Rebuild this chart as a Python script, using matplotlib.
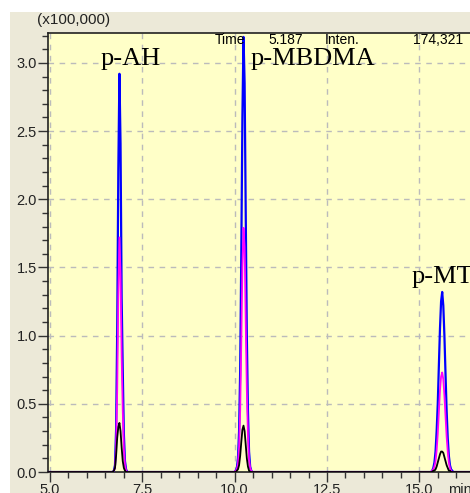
import numpy as np
import matplotlib
matplotlib.use("Agg")
from matplotlib import pyplot as plt
from matplotlib.ticker import MultipleLocator, FormatStrFormatter
from matplotlib.patches import Rectangle

t_ah = [6.70, 6.73, 6.76, 6.79, 6.82, 6.85, 6.88, 6.91, 6.94, 6.97, 7.00, 7.03, 7.06, 7.09, 7.12]
blue_ah = [0, 0.01, 0.05, 0.31, 1.04, 2.21, 2.92, 2.41, 1.28, 0.75, 0.28, 0.08, 0.02, 0, 0]
pink_ah = [0, 0.01, 0.03, 0.18, 0.60, 1.30, 1.72, 1.45, 0.85, 0.45, 0.17, 0.05, 0.01, 0, 0]
black_ah = [0, 0.01, 0.03, 0.12, 0.25, 0.33, 0.36, 0.30, 0.18, 0.08, 0.03, 0.01, 0, 0, 0]

t_mb = [10.00, 10.03, 10.06, 10.09, 10.12, 10.15, 10.18, 10.21, 10.24, 10.27, 10.30,
        10.33, 10.36, 10.39, 10.42, 10.45, 10.48]
blue_mb = [0, 0.01, 0.03, 0.10, 0.30, 0.75, 1.60, 2.60, 3.19, 2.85, 1.90, 1.00, 0.45, 0.15, 0.04, 0.01, 0]
pink_mb = [0, 0.01, 0.02, 0.06, 0.18, 0.45, 0.95, 1.50, 1.79, 1.65, 1.10, 0.60, 0.27, 0.09, 0.03, 0.01, 0]
black_mb = [0, 0, 0.01, 0.02, 0.05, 0.12, 0.22, 0.31, 0.34, 0.30, 0.20, 0.10, 0.04, 0.01, 0, 0, 0]

t_mt = [15.29, 15.32, 15.35, 15.38, 15.41, 15.44, 15.47, 15.50, 15.53, 15.56, 15.59, 15.62,
        15.65, 15.68, 15.71, 15.74, 15.77, 15.80, 15.83, 15.86, 15.89, 15.92, 15.95]
blue_mt = [0, 0, 0.01, 0.03, 0.07, 0.15, 0.30, 0.50, 0.78, 1.05, 1.25, 1.32,
           1.22, 1.00, 0.72, 0.45, 0.25, 0.12, 0.05, 0.02, 0.01, 0, 0]
pink_mt = [0, 0, 0.01, 0.02, 0.04, 0.08, 0.16, 0.28, 0.44, 0.60, 0.70, 0.73,
           0.68, 0.56, 0.41, 0.26, 0.15, 0.07, 0.03, 0.01, 0, 0, 0]
black_mt = [0, 0, 0, 0.01, 0.01, 0.02, 0.04, 0.07, 0.10, 0.13, 0.15, 0.15,
            0.14, 0.11, 0.08, 0.05, 0.03, 0.01, 0.01, 0, 0, 0, 0]

peak_names = ["p-AH", "p-MBDMA", "p-MT"]
label_pos = [(6.36, 3.03), (10.42, 3.03), (14.78, 1.43)]


def trace(*parts):
    t = np.concatenate([[4.8]] + [p[0] for p in parts] + [[16.8]])
    y = np.concatenate([[0]] + [p[1] for p in parts] + [[0]])
    return t, y


fig = plt.figure(figsize=(4.70, 4.93), dpi=100, facecolor="#ECE9D8")
fig.patches.append(Rectangle((0, 1 - 12 / 493), 1, 12 / 493, transform=fig.transFigure,
                             facecolor="white", edgecolor="none", zorder=0))
fig.patches.append(Rectangle((0, 0), 10 / 470, 1, transform=fig.transFigure,
                             facecolor="white", edgecolor="none", zorder=0))

ax = fig.add_axes([48 / 470, 21 / 493, 427 / 470, 439 / 493], facecolor="#FFFFC8")

t, y = trace((t_ah, blue_ah), (t_mb, blue_mb), (t_mt, blue_mt))
ax.plot(t, y, color="#0000FF", lw=1.6, zorder=3)
t, y = trace((t_ah, pink_ah), (t_mb, pink_mb), (t_mt, pink_mt))
ax.plot(t, y, color="#FF00FF", lw=1.3, zorder=4)
t, y = trace((t_ah, black_ah), (t_mb, black_mb), (t_mt, black_mt))
ax.plot(t, y, color="black", lw=1.3, zorder=5)

ax.set_xlim(4.946, 4.946 + 427 / 36.93)
ax.set_ylim(0, 3.219)
ax.xaxis.set_major_locator(MultipleLocator(2.5))
ax.xaxis.set_minor_locator(MultipleLocator(0.5))
ax.yaxis.set_major_locator(MultipleLocator(0.5))
ax.yaxis.set_minor_locator(MultipleLocator(0.1))
ax.xaxis.set_major_formatter(FormatStrFormatter("%.1f"))
ax.yaxis.set_major_formatter(FormatStrFormatter("%.1f"))
ax.tick_params(which="major", direction="out", length=7, width=1, color="#333333",
               labelsize=10.5, pad=1)
ax.tick_params(which="minor", direction="out", length=4, width=1, color="#333333")
for lab in ax.get_xticklabels() + ax.get_yticklabels():
    lab.set_fontfamily("Liberation Sans")
    lab.set_color("#222222")
ax.grid(True, which="major", color="#BBBBBB", linestyle=(0, (4, 4)), lw=1)
for s in ["left", "bottom", "top"]:
    ax.spines[s].set_color("#222222")
    ax.spines[s].set_linewidth(1.2)
ax.spines["right"].set_visible(False)

for name, (x, yv) in zip(peak_names, label_pos):
    ax.text(x, yv, name, family="Liberation Serif", fontsize=19, va="center", ha="left",
            zorder=6)

info_font = dict(family="Liberation Sans", fontsize=10, va="center", ha="left", zorder=6)
ax.text(9.47, 3.165, "Time", **info_font)
ax.text(10.91, 3.165, "5.187", **info_font)
ax.text(12.45, 3.165, "Inten.", **info_font)
ax.text(14.84, 3.165, "174,321", **info_font)

fig.text(37 / 470, 1 - 20 / 493, "(x100,000)", family="Liberation Sans", fontsize=11,
         va="center", ha="left", color="#222222")
fig.text(448 / 470, 1 - 490 / 493, "min", family="Liberation Sans", fontsize=10.5,
         va="center", ha="left", color="#222222")

fig.savefig("out.png", dpi=100, facecolor=fig.get_facecolor())
